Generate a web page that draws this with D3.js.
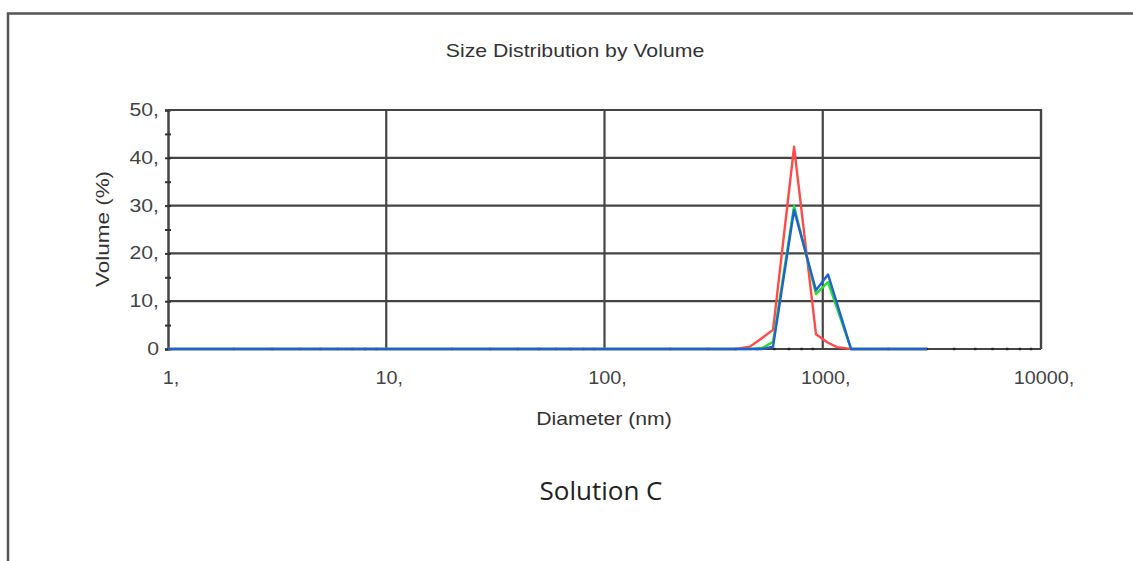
<!DOCTYPE html>
<html lang="en">
<head>
	<meta charset="UTF-8">
	<title>Size Distribution by Volume</title>
	<style>
		body { margin: 0; background: #fff; }
		text { font-family: "Liberation Sans", Arial, sans-serif; fill: #333; }
	</style>
	<script src="https://d3js.org/d3.v7.min.js"></script>
</head>
<body>
	<script type="text/javascript">
		// data (diameter in nm, volume in %)
		const sizes = [1, 400, 464, 527, 592, 739, 931, 1057, 1163, 1348, 3000];
		const red = [0, 0, 0.5, 2.3, 4.0, 42.3, 3.1, 1.3, 0.4, 0, 0];
		const green = [0, 0, 0, 0.2, 1.5, 29.9, 11.5, 14.0, 8.5, 0, 0];
		const blue = [0, 0, 0, 0, 0.5, 29.1, 12.3, 15.6, 9.5, 0, 0];

		const xTicks = [1, 10, 100, 1000, 10000];
		const xTickLabels = ["1,", "10,", "100,", "1000,", "10000,"];
		const yTicks = [0, 10, 20, 30, 40, 50];
		const yTickLabels = ["0", "10,", "20,", "30,", "40,", "50,"];

		const width = 1133;
		const height = 561;
		const stretch = 1.18; // the original text looks widened

		const svg = d3.select("body").append("svg")
			.attr("width", width)
			.attr("height", height);

		// outer frame (only top and left edge visible)
		svg.append("path")
			.attr("d", "M8,561 V13.5 H1133")
			.attr("fill", "none")
			.attr("stroke", "#555")
			.attr("stroke-width", 2.5);

		const x = d3.scaleLog().domain([1, 10000]).range([168, 1041]);
		const y = d3.scaleLinear().domain([0, 50]).range([349, 110]);

		const gridColor = "#444";

		// helper: text widened horizontally around its anchor point
		function label(px, py, str, size, sx) {
			return svg.append("text")
				.attr("transform", `translate(${px},${py}) scale(${sx},1)`)
				.attr("font-size", size)
				.text(str);
		}

		// horizontal gridlines
		svg.selectAll(".hgrid")
			.data(yTicks.filter(d => d > 0))
			.join("line")
			.attr("x1", x(1)).attr("x2", x(10000))
			.attr("y1", d => y(d)).attr("y2", d => y(d))
			.attr("stroke", gridColor).attr("stroke-width", 2.2);

		// vertical gridlines
		svg.selectAll(".vgrid")
			.data(xTicks.filter(d => d > 1))
			.join("line")
			.attr("x1", d => x(d)).attr("x2", d => x(d))
			.attr("y1", y(50)).attr("y2", y(0))
			.attr("stroke", gridColor).attr("stroke-width", 2.2);

		// y axis with minor ticks
		const yAxis = svg.append("g")
			.attr("transform", `translate(${x(1)},0)`)
			.call(d3.axisLeft(y).tickValues(d3.range(0, 51, 5)).tickSize(3).tickFormat(""));
		yAxis.select(".domain").attr("stroke", gridColor).attr("stroke-width", 2.5);
		yAxis.selectAll(".tick line").attr("stroke", "#333").attr("stroke-width", 2).attr("x2", 3).attr("x1", -3);

		yTicks.forEach((d, i) => {
			label(x(1) - 9, y(d) + 6, yTickLabels[i], 18, stretch)
				.attr("text-anchor", "end").style("fill", "#444");
		});

		// x axis line
		svg.append("line")
			.attr("x1", x(1)).attr("x2", x(10000))
			.attr("y1", y(0)).attr("y2", y(0))
			.attr("stroke", gridColor).attr("stroke-width", 2);

		// minor log ticks drawn as dots on the x axis
		const minor = [];
		[1, 10, 100, 1000].forEach(p => { for (let k = 2; k <= 9; k++) minor.push(p * k); });
		svg.selectAll(".minor")
			.data(minor)
			.join("rect")
			.attr("x", d => x(d) - 1.2).attr("y", y(0) - 1.2)
			.attr("width", 2.4).attr("height", 2.4)
			.attr("fill", "#222");

		// x tick labels
		xTicks.forEach((d, i) => {
			label(x(d) + 3, 384, xTickLabels[i], 18, 1.1)
				.attr("text-anchor", "middle").style("fill", "#444");
		});

		// series
		const line = d3.line()
			.x(d => x(d[0]))
			.y(d => y(d[1]));

		const series = [
			{ values: red, color: "#ff4a4a" },
			{ values: green, color: "#2bdc2b" },
			{ values: blue, color: "#2160d4" }
		];

		svg.selectAll(".series")
			.data(series)
			.join("path")
			.attr("d", s => line(sizes.map((d, i) => [d, s.values[i]])))
			.attr("fill", "none")
			.attr("stroke", s => s.color)
			.attr("stroke-width", 2.4)
			.attr("stroke-linejoin", "round");

		// plot border top and right
		svg.append("path")
			.attr("d", `M${x(1)},${y(50)} H${x(10000)} V${y(0)}`)
			.attr("fill", "none")
			.attr("stroke", gridColor)
			.attr("stroke-width", 2.2);

		// titles
		label(575, 57, "Size Distribution by Volume", 18, stretch).attr("text-anchor", "middle");
		label(604, 425, "Diameter (nm)", 18, stretch).attr("text-anchor", "middle");

		svg.append("text")
			.attr("transform", "translate(109,229) rotate(-90) scale(1.25,1)")
			.attr("text-anchor", "middle")
			.attr("font-size", 18)
			.text("Volume (%)");

		svg.append("text")
			.attr("x", 601).attr("y", 500)
			.attr("text-anchor", "middle")
			.attr("font-size", 26)
			.style("font-family", "'Open Sans', sans-serif")
			.style("fill", "#222")
			.text("Solution C");
	</script>
</body>
</html>
